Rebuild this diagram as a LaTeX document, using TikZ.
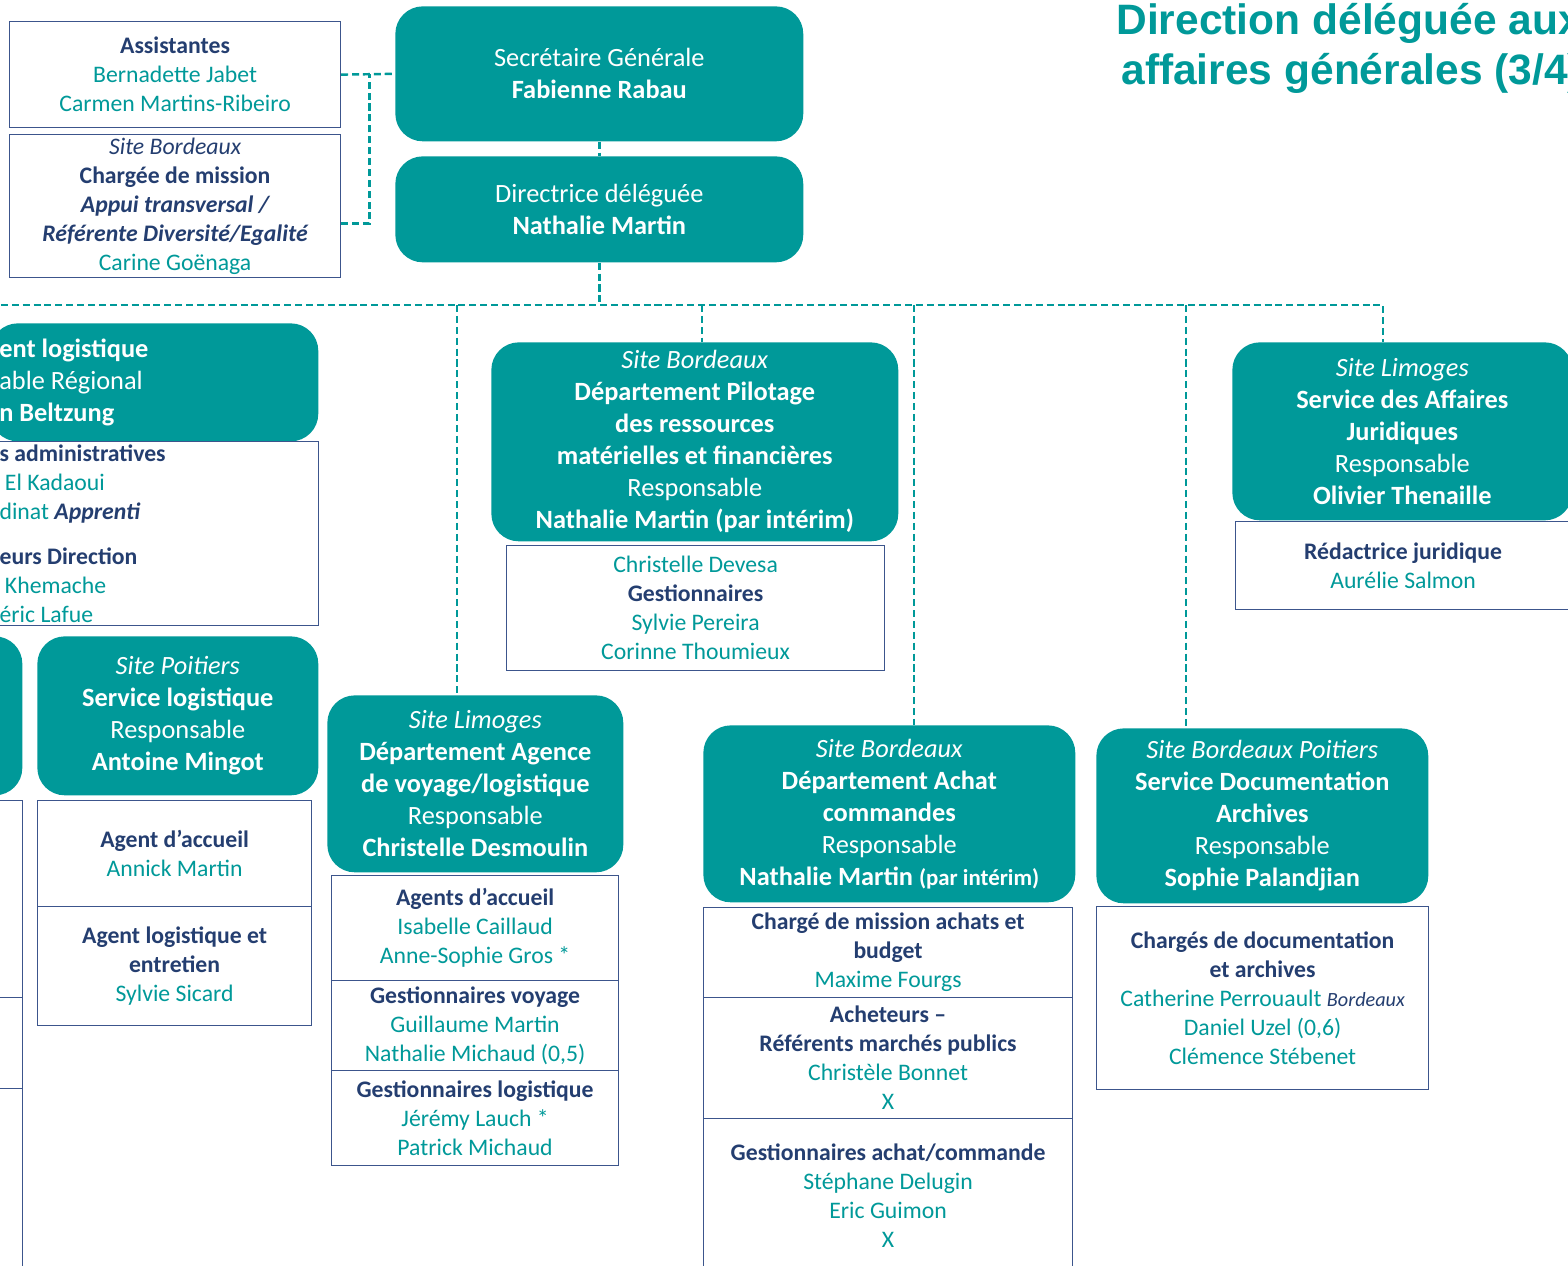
\documentclass[tikz,border=0pt]{standalone}
\usepackage{fontspec}
\setmainfont{Carlito}
\newfontfamily\titlefont{Liberation Sans}
\usepackage{xcolor}
\usetikzlibrary{positioning,calc}

\definecolor{sallteal}{RGB}{0,153,153}
\definecolor{roleblue}{RGB}{36,62,112}
\definecolor{edgeblue}{RGB}{60,85,140}

\newcommand{\role}[1]{{\bfseries\color{roleblue}#1}}
\newcommand{\headfont}{\fontsize{15}{18.2}\selectfont}
\newcommand{\stafffont}{\fontsize{13.5}{16.5}\selectfont}

\tikzset{
  head/.style={fill=sallteal, rounded corners=0.55cm, text=white, align=center, font=\headfont, inner sep=0pt, anchor=north west},
  staff/.style={draw=edgeblue, line width=0.7pt, fill=white, text=sallteal, align=center, font=\stafffont, inner sep=0pt, anchor=north west},
  link/.style={draw=sallteal, line width=1.4pt, dash pattern=on 4pt off 2.2pt},
}

\begin{document}
\begin{tikzpicture}[x=0.02cm, y=-0.02cm]
    \useasboundingbox (0,0) rectangle (1568,1265);
    \fill[white] (0,0) rectangle (1568,1265);
    \clip (0,0) rectangle (1568,1265);

    % Title
    \node[anchor=base west, inner sep=0pt, text=sallteal, font={\titlefont\bfseries\fontsize{24.2}{28}\selectfont}] (title1) at (1116,34) {Direction déléguée aux};
    \node[anchor=base west, inner sep=0pt, text=sallteal, font={\titlefont\bfseries\fontsize{24.2}{28}\selectfont}] (title2) at (1121,84) {affaires générales (3/4)};

    % Direction
    \node[head, minimum width=8.16cm, minimum height=2.70cm] (sg) at (395,6) {Secrétaire Générale\\\textbf{Fabienne Rabau}};
    \node[head, minimum width=8.16cm, minimum height=2.12cm] (dd) at (395,156) {Directrice déléguée\\\textbf{Nathalie Martin}};
    \node[staff, minimum width=6.62cm, minimum height=2.12cm] (asst) at (9,21) {\role{Assistantes}\\Bernadette Jabet\\Carmen Martins-Ribeiro};
    \node[staff, minimum width=6.62cm, minimum height=2.86cm] (charge) at (9,134) {{\itshape\color{roleblue}Site Bordeaux}\\\role{Chargée de mission}\\\role{\itshape Appui transversal /}\\\role{\itshape Référente Diversité/Egalité}\\Carine Goënaga};

    % Left column (cut off)
    \node[head, minimum width=6.56cm, minimum height=2.36cm, text width=6.2cm, align=flush left, inner xsep=0.18cm] (logr) at (-10,323) {\textbf{ent logistique}\\able Régional\\\textbf{n Beltzung}};
    \node[staff, minimum width=6.56cm, minimum height=3.68cm, text width=6.2cm, align=flush left, inner xsep=0.18cm] (logs) at (-10,441) {\role{s administratives}\\\ El Kadaoui\\dinat \role{\itshape Apprenti}\\[0.31cm]\role{eurs Direction}\\\ Khemache\\éric Lafue};
    \node[head, minimum width=1.24cm, minimum height=3.18cm] (left3) at (-40,636) {};
    \node[staff, minimum width=0.64cm, minimum height=3.94cm] (leftA) at (-10,800) {};
    \node[staff, minimum width=0.64cm, minimum height=1.82cm] (leftB) at (-10,997) {};
    \node[staff, minimum width=0.64cm, minimum height=4.2cm] (leftC) at (-10,1088) {};

    % Site Poitiers
    \node[head, minimum width=5.62cm, minimum height=3.18cm] (poit) at (37,636) {\textit{Site Poitiers}\\\textbf{Service logistique}\\Responsable\\\textbf{Antoine Mingot}};
    \node[staff, minimum width=5.48cm, minimum height=2.12cm] (poitA) at (37,800) {\role{Agent d’accueil}\\Annick Martin};
    \node[staff, minimum width=5.48cm, minimum height=2.38cm] (poitB) at (37,906) {\role{Agent logistique et}\\\role{entretien}\\Sylvie Sicard};

    % Agence de voyage
    \node[head, minimum width=5.92cm, minimum height=3.54cm] (lim) at (327,695) {\textit{Site Limoges}\\\textbf{Département Agence}\\\textbf{de voyage/logistique}\\Responsable\\\textbf{Christelle Desmoulin}};
    \node[staff, minimum width=5.74cm, minimum height=2.10cm] (limA) at (331,875) {\role{Agents d’accueil}\\Isabelle Caillaud\\Anne-Sophie Gros *};
    \node[staff, minimum width=5.74cm, minimum height=1.80cm] (limB) at (331,980) {\role{Gestionnaires voyage}\\Guillaume Martin\\Nathalie Michaud (0,5)};
    \node[staff, minimum width=5.74cm, minimum height=1.90cm] (limC) at (331,1070) {\role{Gestionnaires logistique}\\Jérémy Lauch *\\Patrick Michaud};

    % Pilotage
    \node[head, minimum width=8.14cm, minimum height=3.98cm] (pil) at (491,342) {\textit{Site Bordeaux}\\\textbf{Département Pilotage}\\\textbf{des ressources}\\\textbf{matérielles et financières}\\Responsable\\\textbf{Nathalie Martin (par intérim)}};
    \node[staff, minimum width=7.56cm, minimum height=2.50cm] (pilA) at (506,545) {Christelle Devesa\\\role{Gestionnaires}\\Sylvie Pereira\\Corinne Thoumieux};

    % Achat
    \node[head, minimum width=7.44cm, minimum height=3.54cm] (ach) at (703,725) {\textit{Site Bordeaux}\\\textbf{Département Achat}\\\textbf{commandes}\\Responsable\\\textbf{Nathalie Martin {\fontsize{13}{16}\selectfont(par intérim)}}};
    \node[staff, minimum width=7.38cm, minimum height=1.80cm] (achA) at (703,907) {\role{Chargé de mission achats et}\\\role{budget}\\Maxime Fourgs};
    \node[staff, minimum width=7.38cm, minimum height=2.42cm] (achB) at (703,997) {\role{Acheteurs –}\\\role{Référents marchés publics}\\Christèle Bonnet\\X};
    \node[staff, minimum width=7.38cm, minimum height=3.08cm] (achC) at (703,1118) {\role{Gestionnaires achat/commande}\\Stéphane Delugin\\Eric Guimon\\X};

    % Documentation
    \node[head, minimum width=6.64cm, minimum height=3.50cm] (doc) at (1096,728) {\textit{Site Bordeaux Poitiers}\\\textbf{Service Documentation}\\\textbf{Archives}\\Responsable\\\textbf{Sophie Palandjian}};
    \node[staff, minimum width=6.64cm, minimum height=3.66cm] (docA) at (1096,906) {\role{Chargés de documentation}\\\role{et archives}\\Catherine Perrouault {\fontsize{11.5}{14}\selectfont\itshape\color{roleblue}Bordeaux}\\Daniel Uzel (0,6)\\Clémence Stébenet};

    % Juridique
    \node[head, minimum width=6.80cm, minimum height=3.56cm] (jur) at (1232,342) {\textit{Site Limoges}\\\textbf{Service des Affaires}\\\textbf{Juridiques}\\Responsable\\\textbf{Olivier Thenaille}};
    \node[staff, minimum width=6.70cm, minimum height=1.76cm] (jurA) at (1235,521) {\role{Rédactrice juridique}\\Aurélie Salmon};

    % Links
    \coordinate (aj) at ($(asst.east)!0.53!(sg.west)$);
    \draw[link] (asst.east) -- (sg.west);
    \draw[link] ([yshift=-0.35cm]charge.east) -| (aj);
    \draw[link] (sg.south) -- (dd.north);
    \coordinate (busL) at (-10,305);
    \coordinate (busR) at (1383,305);
    \draw[link] (dd.south) -- (dd.south |- busL);
    \draw[link] (busL) -- (busR) -- (busR |- jur.north);
    \foreach \x/\n in {457/lim, 702/pil, 914/ach, 1186/doc}
        {\coordinate (top\n) at (\x,305);
         \draw[link] (top\n) -- (top\n |- \n.north);}

\end{tikzpicture}
\end{document}
